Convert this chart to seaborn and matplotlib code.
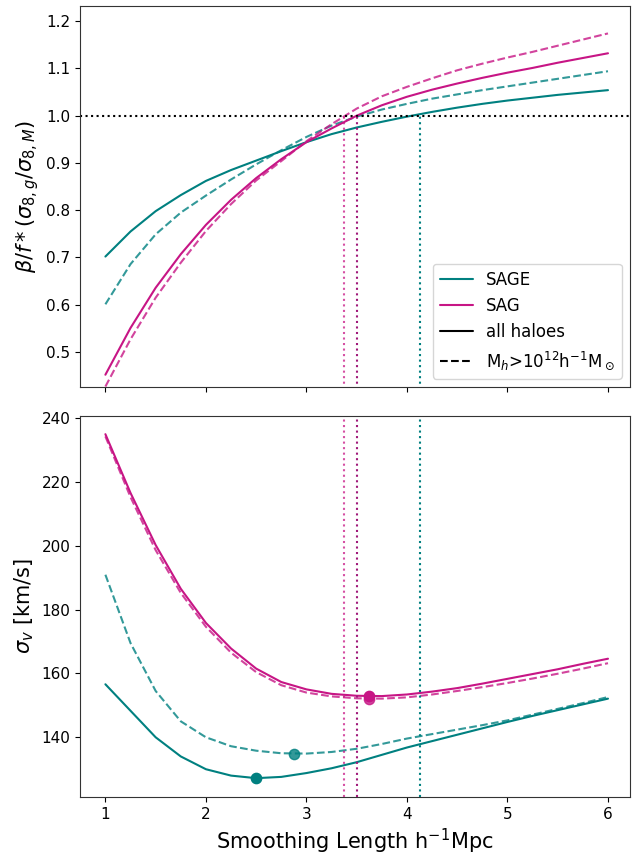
import numpy as np
import pandas as pd
import seaborn as sns
import matplotlib.pyplot as plt
from matplotlib.lines import Line2D

sns.set_style("ticks")
plt.rcParams['font.family'] = ['DejaVu Sans']
plt.rcParams['text.color'] = 'black'
plt.rcParams['axes.labelcolor'] = 'black'
plt.rcParams['xtick.color'] = 'black'
plt.rcParams['ytick.color'] = 'black'

# smoothing lengths (h^-1 Mpc)
smooth = [1.0, 1.25, 1.5, 1.75, 2.0, 2.25, 2.5, 2.75, 3.0, 3.25, 3.5,
          3.75, 4.0, 4.25, 4.5, 4.75, 5.0, 5.25, 5.5, 5.75, 6.0]

# top panel: beta / f * (sigma8_g / sigma8_M)
ratio_sage_all = [0.702, 0.755, 0.798, 0.832, 0.862, 0.885, 0.905, 0.925, 0.944, 0.961, 0.975,
                  0.987, 0.998, 1.008, 1.017, 1.025, 1.032, 1.038, 1.044, 1.049, 1.054]
ratio_sage_mass = [0.601, 0.686, 0.749, 0.795, 0.831, 0.865, 0.897, 0.927, 0.955, 0.979, 0.998,
                   1.013, 1.025, 1.036, 1.045, 1.054, 1.062, 1.070, 1.078, 1.086, 1.094]
ratio_sag_all = [0.452, 0.551, 0.636, 0.707, 0.769, 0.822, 0.868, 0.908, 0.944, 0.973, 1.000,
                 1.022, 1.040, 1.055, 1.068, 1.080, 1.091, 1.101, 1.112, 1.122, 1.132]
ratio_sag_mass = [0.427, 0.527, 0.615, 0.689, 0.756, 0.813, 0.863, 0.904, 0.946, 0.982, 1.015,
                  1.041, 1.061, 1.079, 1.096, 1.110, 1.123, 1.135, 1.148, 1.161, 1.174]

# bottom panel: sigma_v [km/s]
sigv_sage_all = [156.6, 148.3, 140.0, 134.0, 130.0, 128.0, 127.2, 127.6, 128.8, 130.3, 132.2,
                 134.5, 136.8, 138.8, 140.8, 142.8, 144.8, 146.7, 148.5, 150.3, 152.1]
sigv_sage_mass = [190.9, 169.5, 154.5, 145.0, 140.0, 137.2, 135.8, 135.0, 134.9, 135.4, 136.4,
                  137.9, 139.6, 141.0, 142.4, 143.8, 145.3, 147.1, 148.9, 150.7, 152.6]
sigv_sag_all = [234.9, 216.5, 200.2, 186.5, 175.8, 167.8, 161.5, 157.3, 155.0, 153.6, 153.0,
                152.9, 153.4, 154.3, 155.4, 156.8, 158.3, 159.8, 161.3, 163.0, 164.6]
sigv_sag_mass = [234.2, 215.2, 198.6, 185.2, 174.6, 166.5, 160.4, 156.3, 154.0, 152.8, 152.2,
                 152.1, 152.5, 153.4, 154.5, 155.7, 157.0, 158.4, 159.9, 161.5, 163.2]

# minima of sigma_v
min_x = [2.50, 2.88, 3.62, 3.62]
min_y = [127.2, 134.9, 152.8, 152.0]

# where ratio reaches 1
cross_x = [3.37, 3.50, 4.13]

teal = '#008080'
pink = '#c71585'

df = pd.DataFrame({
    'smooth': smooth,
    'ratio_sage_all': ratio_sage_all, 'ratio_sage_mass': ratio_sage_mass,
    'ratio_sag_all': ratio_sag_all, 'ratio_sag_mass': ratio_sag_mass,
    'sigv_sage_all': sigv_sage_all, 'sigv_sage_mass': sigv_sage_mass,
    'sigv_sag_all': sigv_sag_all, 'sigv_sag_mass': sigv_sag_mass,
})

fig, (ax1, ax2) = plt.subplots(2, 1, figsize=(6.32, 8.57), dpi=100, sharex=True)
fig.subplots_adjust(left=0.127, right=0.997, top=0.993, bottom=0.070, hspace=0.076)

# top panel
sns.lineplot(data=df, x='smooth', y='ratio_sage_all', color=teal, lw=1.5, ax=ax1)
sns.lineplot(data=df, x='smooth', y='ratio_sage_mass', color=teal, lw=1.5, ls='--', alpha=0.8, ax=ax1)
sns.lineplot(data=df, x='smooth', y='ratio_sag_all', color=pink, lw=1.5, ax=ax1)
sns.lineplot(data=df, x='smooth', y='ratio_sag_mass', color=pink, lw=1.5, ls='--', alpha=0.8, ax=ax1)
ax1.axhline(1.0, color='black', ls=':', lw=1.5)

# bottom panel
sns.lineplot(data=df, x='smooth', y='sigv_sage_all', color=teal, lw=1.5, ax=ax2)
sns.lineplot(data=df, x='smooth', y='sigv_sage_mass', color=teal, lw=1.5, ls='--', alpha=0.8, ax=ax2)
sns.lineplot(data=df, x='smooth', y='sigv_sag_all', color=pink, lw=1.5, ax=ax2)
sns.lineplot(data=df, x='smooth', y='sigv_sag_mass', color=pink, lw=1.5, ls='--', alpha=0.8, ax=ax2)
dot_colors = [teal, teal, pink, pink]
dot_alpha = [1.0, 0.8, 1.0, 0.8]
for mx, my, c, a in zip(min_x, min_y, dot_colors, dot_alpha):
    ax2.scatter(mx, my, s=55, color=c, alpha=a, zorder=5)

# vertical crossing lines: up to ratio = 1 on top, full height below
vcolors = [pink, '#a0197a', teal]
valpha = [0.75, 1.0, 1.0]
for cx, c, a in zip(cross_x, vcolors, valpha):
    ax1.vlines(cx, 0.0, 1.0, color=c, ls=':', lw=1.5, alpha=a)
    ax2.axvline(cx, color=c, ls=':', lw=1.5, alpha=a)

ax1.set_xlim(0.75, 6.22)
ax1.set_ylim(0.426, 1.232)
ax2.set_ylim(121.3, 240.6)

ax1.set_xlabel('')
ax1.set_ylabel(r'$\beta/f*(\sigma_{8,g}/\sigma_{8,M})$', fontsize=15)
ax2.set_ylabel(r'$\sigma_v$ [km/s]', fontsize=15)
ax2.set_xlabel(r'Smoothing Length h$^{-1}$Mpc', fontsize=15)
for ax in (ax1, ax2):
    ax.tick_params(labelsize=11)
    for sp in ax.spines.values():
        sp.set_visible(True)
        sp.set_color('#333333')
ax1.tick_params(labelbottom=False)
ax1.set_yticks([0.5, 0.6, 0.7, 0.8, 0.9, 1.0, 1.1, 1.2])
ax2.set_yticks([140, 160, 180, 200, 220, 240])

handles = [
    Line2D([], [], color=teal, lw=1.5),
    Line2D([], [], color=pink, lw=1.5),
    Line2D([], [], color='black', lw=1.5),
    Line2D([], [], color='black', lw=1.5, ls='--'),
]
labels = ['SAGE', 'SAG', 'all haloes', r'M$_h$>10$^{12}$h$^{-1}$M$_\odot$']
ax1.legend(handles, labels, loc='lower right', fontsize=12, frameon=True)

fig.savefig('out.png', dpi=100)
